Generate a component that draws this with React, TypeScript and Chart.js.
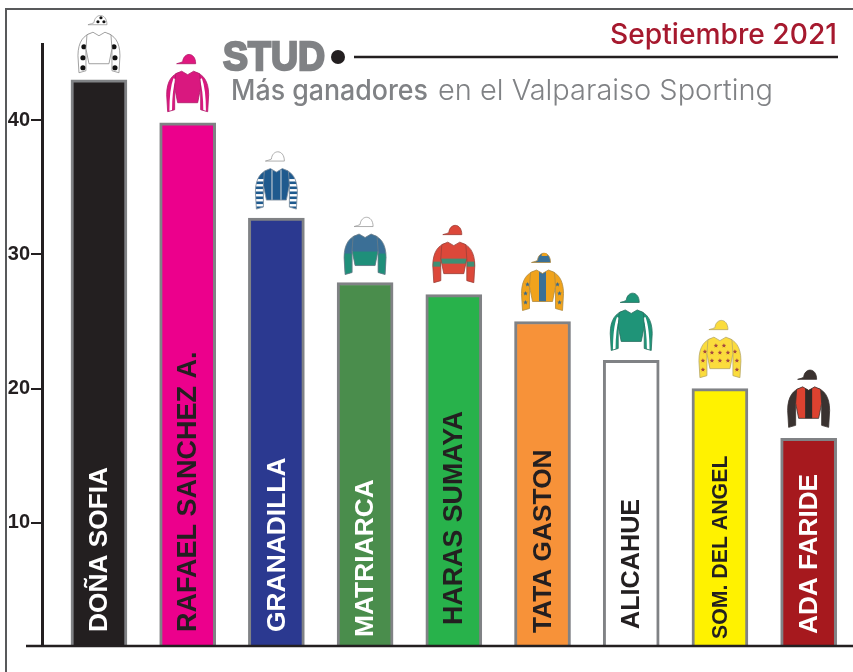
import React, { useEffect, useRef } from "react";
import { Chart, registerables } from "chart.js";

Chart.register(...registerables);

const categories = ["DOÑA SOFIA", "RAFAEL SANCHEZ A.", "GRANADILLA", "MATRIARCA", "HARAS SUMAYA", "TATA GASTON", "ALICAHUE", "SOM. DEL ANGEL", "ADA FARIDE"];
const winners = [43, 39.8, 32.7, 27.9, 27, 25, 22.1, 20, 16.3];
const yTicks = [10, 20, 30, 40];
const barColors = ["#231f20", "#ec008c", "#2b3990", "#4a8d4c", "#28b24b", "#f79239", "#ffffff", "#fff200", "#a6191e"];
const labelColors = ["#ffffff", "#231f20", "#ffffff", "#ffffff", "#231f20", "#231f20", "#231f20", "#231f20", "#ffffff"];
const labelFontSizes = [26.3, 27, 26.4, 26.4, 26.8, 26.3, 25.2, 21.3, 26.2];
const labelBottoms = [632, 632, 632, 637, 625, 633, 629, 639, 634];
const silkGaps = [7, 11, 9, 8, 12, 11, 10, 11, 11];

const TITLE = "STUD";
const SUBTITLE_BOLD = "Más ganadores";
const SUBTITLE_LIGHT = "en el Valparaiso Sporting";
const DATE_TEXT = "Septiembre 2021";

const GREY = "#808285";
const DARK = "#231f20";

type Silk = {
  body: string; sleeve: string; cap: string; capTop?: string; capDots?: boolean;
  lower?: string; band?: string; centre?: string; stripes?: boolean;
  sleeveMark?: "dots" | "stripe" | "hoops" | "stars"; markColor?: string; bodyStars?: string; outline: string;
};
const silks: Silk[] = [
  { body: "#ffffff", sleeve: "#ffffff", cap: "#ffffff", capDots: true, sleeveMark: "dots", markColor: "#111111", outline: "#8a8a8a" },
  { body: "#d9187f", sleeve: "#d9187f", cap: "#e0187f", sleeveMark: "stripe", markColor: "#ffffff", outline: "#b01a6a" },
  { body: "#1f5a8e", sleeve: "#1f5a8e", cap: "#ffffff", stripes: true, sleeveMark: "hoops", markColor: "#ffffff", outline: "#7f8f9f" },
  { body: "#3b6f96", sleeve: "#3b6f96", cap: "#ffffff", lower: "#1f8f7a", outline: "#6a7c88" },
  { body: "#dc483a", sleeve: "#dc483a", cap: "#dc483a", band: "#3f8f74", outline: "#9c4038" },
  { body: "#f0a31c", sleeve: "#f0a31c", cap: "#3a7096", capTop: "#f0a31c", centre: "#3a7096", sleeveMark: "stars", markColor: "#3a6a8c", outline: "#b08a40" },
  { body: "#1f9478", sleeve: "#1f9478", cap: "#1f9478", sleeveMark: "stripe", markColor: "#ffffff", outline: "#27705f" },
  { body: "#fbdc3c", sleeve: "#fbdc3c", cap: "#fbdc3c", bodyStars: "#a5483f", sleeveMark: "stars", markColor: "#a5483f", outline: "#b8a868" },
  { body: "#dc4230", sleeve: "#3a3230", cap: "#3a3230", centre: "#2f2a28", outline: "#3a3230" },
];

function star(ctx: CanvasRenderingContext2D, x: number, y: number, r: number, color: string) {
  ctx.fillStyle = color;
  ctx.beginPath();
  for (let i = 0; i < 10; i++) {
    const a = -Math.PI / 2 + (i * Math.PI) / 5;
    const rad = i % 2 ? r * 0.45 : r;
    ctx.lineTo(x + Math.cos(a) * rad, y + Math.sin(a) * rad);
  }
  ctx.closePath();
  ctx.fill();
}

function sleevePath(ctx: CanvasRenderingContext2D, s: number) {
  ctx.beginPath();
  ctx.moveTo(s * 8, 2);
  ctx.bezierCurveTo(s * 15, 3, s * 21, 10, s * 21, 24);
  ctx.lineTo(s * 20, 41);
  ctx.lineTo(s * 13, 39);
  ctx.lineTo(s * 13, 18);
  ctx.closePath();
}

function drawSilk(ctx: CanvasRenderingContext2D, cx: number, bottom: number, k: Silk) {
  const top = bottom - 41;
  ctx.save();
  ctx.translate(cx, top);
  ctx.lineWidth = 0.8;
  ctx.lineJoin = "round";
  for (const s of [-1, 1]) {
    ctx.save();
    sleevePath(ctx, s);
    ctx.fillStyle = k.sleeve;
    ctx.fill();
    ctx.clip();
    if (k.lower) { ctx.fillStyle = k.lower; ctx.fillRect(s > 0 ? 0 : -30, 20, 30, 25); }
    if (k.band) { ctx.fillStyle = k.band; ctx.fillRect(s > 0 ? 0 : -30, 20, 30, 5); }
    if (k.sleeveMark === "stripe") {
      ctx.strokeStyle = k.markColor!;
      ctx.lineWidth = 2.6;
      ctx.beginPath();
      ctx.moveTo(s * 13, 8);
      ctx.quadraticCurveTo(s * 17, 18, s * 17, 42);
      ctx.stroke();
    }
    if (k.sleeveMark === "hoops") {
      ctx.fillStyle = k.markColor!;
      for (const y of [11, 16, 21, 26, 31, 36]) ctx.fillRect(s > 0 ? 10 : -24, y, 14, 2.4);
    }
    ctx.restore();
    if (k.sleeveMark === "dots") {
      ctx.fillStyle = k.markColor!;
      for (const [x, y] of [[15, 15], [16, 26], [16, 36]]) {
        ctx.beginPath(); ctx.arc(s * x, y, 2.6, 0, 7); ctx.fill();
      }
    }
    if (k.sleeveMark === "stars") {
      for (const [x, y] of [[15, 15], [17, 24], [17, 33]]) star(ctx, s * x, y, 2.4, k.markColor!);
    }
    sleevePath(ctx, s);
    ctx.strokeStyle = k.outline;
    ctx.lineWidth = 0.8;
    ctx.stroke();
  }
  const bodyPath = () => {
    ctx.beginPath();
    ctx.moveTo(-6, 0.5);
    ctx.lineTo(0, 4);
    ctx.lineTo(6, 0.5);
    ctx.lineTo(12, 3);
    ctx.lineTo(13, 17);
    ctx.lineTo(10, 32);
    ctx.lineTo(-10, 32);
    ctx.lineTo(-13, 17);
    ctx.lineTo(-12, 3);
    ctx.closePath();
  };
  ctx.save();
  bodyPath();
  ctx.fillStyle = k.body;
  ctx.fill();
  ctx.clip();
  if (k.lower) { ctx.fillStyle = k.lower; ctx.fillRect(-14, 18, 28, 16); }
  if (k.band) { ctx.fillStyle = k.band; ctx.fillRect(-14, 17, 28, 5); }
  if (k.centre) { ctx.fillStyle = k.centre; ctx.fillRect(-3.5, 2, 7, 32); }
  if (k.stripes) {
    ctx.fillStyle = "#b9c4cf";
    ctx.fillRect(-5, 2, 1.2, 32);
    ctx.fillRect(4, 2, 1.2, 32);
  }
  if (k.bodyStars) {
    for (const [x, y] of [[-4, 9], [4, 9], [-8, 16], [0, 16], [8, 16], [-8, 24], [0, 24], [8, 24]]) star(ctx, x, y, 2.4, k.bodyStars);
  }
  ctx.restore();
  bodyPath();
  ctx.strokeStyle = k.outline;
  ctx.stroke();
  ctx.beginPath();
  ctx.moveTo(-11, -7);
  ctx.quadraticCurveTo(-7, -8, -5, -9);
  ctx.bezierCurveTo(-4, -19, 8, -19, 8, -7);
  ctx.closePath();
  ctx.fillStyle = k.cap;
  ctx.fill();
  ctx.strokeStyle = k.cap === "#ffffff" ? "#9a9a9a" : k.outline;
  ctx.stroke();
  if (k.capTop) {
    ctx.fillStyle = k.capTop;
    ctx.beginPath();
    ctx.arc(2, -13.5, 3, Math.PI, 0);
    ctx.fill();
  }
  if (k.capDots) {
    ctx.fillStyle = "#111111";
    for (const [x, y] of [[-1, -10], [5, -10], [2, -14]]) {
      ctx.beginPath(); ctx.arc(x, y, 1.6, 0, 7); ctx.fill();
    }
  }
  ctx.restore();
}

const decorations = {
  id: "decorations",
  beforeDraw(chart: Chart) {
    const ctx = chart.ctx;
    ctx.save();
    ctx.strokeStyle = "#58595b";
    ctx.lineWidth = 2;
    ctx.beginPath();
    ctx.moveTo(6, 672);
    ctx.lineTo(6, 9);
    ctx.lineTo(853, 9);
    ctx.stroke();
    ctx.textBaseline = "alphabetic";
    ctx.textAlign = "left";
    ctx.fillStyle = GREY;
    ctx.strokeStyle = GREY;
    ctx.lineWidth = 2.4;
    ctx.font = 'bold 41px "Liberation Sans"';
    ctx.fillText(TITLE, 223, 70, 102);
    ctx.strokeText(TITLE, 223, 70, 102);
    ctx.fillStyle = DARK;
    ctx.beginPath();
    ctx.arc(338, 57, 7, 0, 7);
    ctx.fill();
    ctx.strokeStyle = DARK;
    ctx.lineWidth = 2.5;
    ctx.beginPath();
    ctx.moveTo(354, 57);
    ctx.lineTo(838, 57);
    ctx.stroke();
    ctx.fillStyle = GREY;
    ctx.font = '500 28px Inter';
    ctx.fillText(SUBTITLE_BOLD, 231, 100, 197);
    ctx.font = '300 29px Inter';
    ctx.fillText(SUBTITLE_LIGHT, 438, 100, 335);
    ctx.fillStyle = "#a6192e";
    ctx.font = '500 28.5px Inter';
    ctx.textAlign = "right";
    ctx.fillText(DATE_TEXT, 837, 44, 227);
    ctx.restore();
  },
  afterDraw(chart: Chart) {
    const ctx = chart.ctx;
    const y = chart.scales.x.top;
    const meta = chart.getDatasetMeta(0);
    ctx.save();
    ctx.strokeStyle = DARK;
    ctx.lineWidth = 2.5;
    ctx.beginPath();
    ctx.moveTo(26, y);
    ctx.lineTo(chart.width, y);
    ctx.stroke();
    meta.data.forEach((bar: any, i: number) => {
      drawSilk(ctx, bar.x, bar.y - silkGaps[i], silks[i]);
      ctx.save();
      ctx.translate(bar.x, labelBottoms[i]);
      ctx.rotate(-Math.PI / 2);
      ctx.font = `bold ${labelFontSizes[i]}px "Liberation Sans"`;
      ctx.fillStyle = labelColors[i];
      ctx.textAlign = "left";
      ctx.textBaseline = "middle";
      ctx.fillText(categories[i], 0, 1);
      ctx.restore();
    });
    ctx.restore();
  },
};

export default function App() {
  const ref = useRef<HTMLCanvasElement>(null);
  useEffect(() => {
    document.body.style.margin = "0";
    document.body.style.background = "#ffffff";
    const Y_MIN = 0.84;
    const Y_MAX = 45.66;
    const setTicks = (scale: any) => {
      scale.ticks = yTicks.map((value) => ({ value }));
    };
    const chart = new Chart(ref.current!, {
      type: "bar",
      data: {
        labels: categories,
        datasets: [
          {
            label: "Ganadores",
            data: winners,
            backgroundColor: barColors,
            borderColor: GREY,
            borderWidth: 3,
            barThickness: 56,
            base: Y_MIN,
          } as any,
        ],
      },
      options: {
        responsive: false,
        animation: false,
        layout: { padding: { left: 54.6, right: 0, top: 44, bottom: 26 } },
        plugins: { legend: { display: false }, title: { display: false }, tooltip: { enabled: false } },
        scales: {
          x: {
            ticks: { display: false },
            grid: { display: false, drawTicks: false },
            border: { display: false },
          },
          y: {
            position: { x: -0.631 } as any,
            min: Y_MIN,
            max: Y_MAX,
            afterBuildTicks: setTicks,
            ticks: { display: false },
            grid: { drawOnChartArea: false, drawTicks: true, tickLength: 10, color: DARK, lineWidth: 2 },
            border: { display: true, color: DARK, width: 3 },
          },
          yLabels: {
            axis: "y",
            position: { x: -0.777 } as any,
            min: Y_MIN,
            max: Y_MAX,
            afterBuildTicks: setTicks,
            ticks: {
              color: DARK,
              font: { family: '"Liberation Sans"', weight: "bold", size: 20 },
            },
            grid: { display: false, drawTicks: false },
            border: { display: false },
          },
        },
      },
      plugins: [decorations],
    } as any);
    return () => chart.destroy();
  }, []);
  return <canvas ref={ref} width={853} height={672} style={{ display: "block" }} />;
}
